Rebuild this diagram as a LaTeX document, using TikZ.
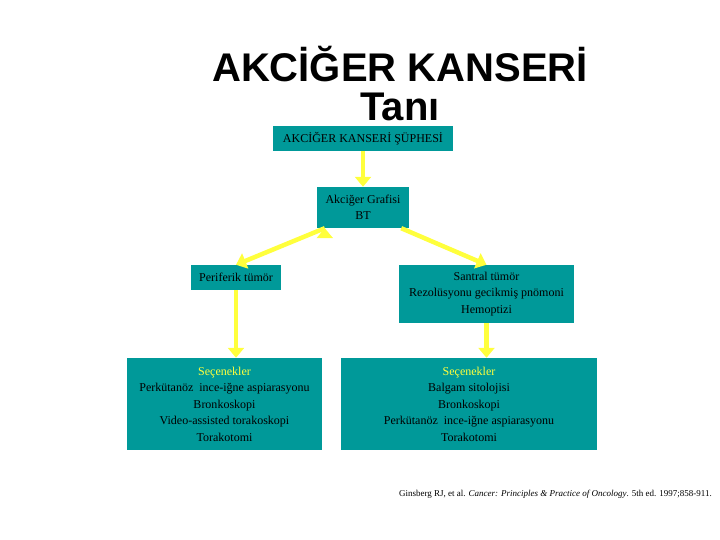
\documentclass[tikz,border=0pt]{standalone}
\usepackage{fontspec}
\setmainfont{Liberation Serif}
\newfontfamily\titlefont{Liberation Sans}
\usetikzlibrary{arrows.meta}
\definecolor{teal1}{RGB}{0,153,153}
\definecolor{yel}{RGB}{255,255,60}
\tikzset{
 box/.style={fill=teal1,inner sep=0pt,align=center,font=\fontsize{12}{16.5}\selectfont,text=black},
 arr/.style={draw=yel,line width=4.5pt,-{Triangle[length=10pt,width=16pt]}},
}
\begin{document}
\begin{tikzpicture}[x=1pt,y=-1pt]
\useasboundingbox (0,0) rectangle (720,540);
\node[font=\titlefont\bfseries\fontsize{40}{44}\selectfont] (t1) at (400,64) {AKCİĞER KANSERİ};
\node[font=\titlefont\bfseries\fontsize{40}{44}\selectfont] (t2) at (400,107) {Tanı};
\node[box,minimum width=180pt,minimum height=25pt] (a) at (363,138.5) {AKCİĞER KANSERİ ŞÜPHESİ};
\node[box,minimum width=92pt,minimum height=41pt] (b) at (363,207.5) {Akciğer Grafisi\\BT};
\node[box,minimum width=90pt,minimum height=25pt] (c) at (236,277.5) {Periferik tümör};
\node[box,minimum width=175pt,minimum height=58pt] (d) at (486.5,294) {Santral tümör\\Rezolüsyonu gecikmiş pnömoni\\Hemoptizi};
\node[box,minimum width=195pt,minimum height=92pt] (e) at (224.5,404) {\textcolor{yel}{Seçenekler}\\Perkütanöz\ \ ince-iğne aspiarasyonu\\Bronkoskopi\\Video-assisted torakoskopi\\Torakotomi};
\node[box,minimum width=256pt,minimum height=92pt] (f) at (469,404) {\textcolor{yel}{Seçenekler}\\Balgam sitolojisi\\Bronkoskopi\\Perkütanöz\ \ ince-iğne aspiarasyonu\\Torakotomi};
\node[font=\fontsize{9}{10}\selectfont,anchor=east,inner sep=0pt] (g) at (712,494) {Ginsberg RJ, et al. \textit{Cancer: Principles \& Practice of Oncology}. 5th ed. 1997;858-911.};
\draw[arr] (a.south) -- (b.north);
\draw[arr] (b.south west)+(8,0) coordinate (b1);
\draw[arr] (b1) -- (c.north);
\draw[arr] ([xshift=-8pt]b.south east) -- (d.north);
\draw[arr] (c.south) -- (c.south |- e.north);
\draw[arr] (d.south) -- (d.south |- f.north);
\end{tikzpicture}
\end{document}
